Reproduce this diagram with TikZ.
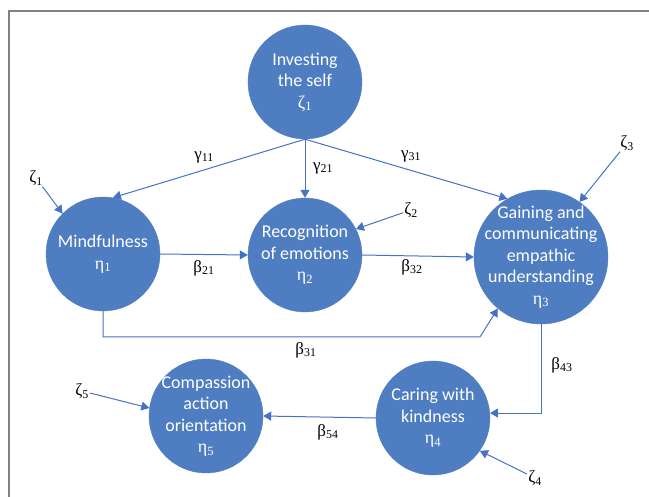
\documentclass[tikz,border=0pt]{standalone}
\usepackage{fontspec}
\setmainfont{Liberation Serif}
\newfontfamily\bubblefont{Carlito}
\usepackage{xcolor}
\usetikzlibrary{arrows.meta}
\definecolor{pathblue}{HTML}{4472C4}
\definecolor{bubbleblue}{HTML}{4E7DC1}
\definecolor{framegrey}{HTML}{808080}
\newcommand{\gsub}[2]{#1\textsubscript{#2}}

\begin{document}
\begin{tikzpicture}[x=1pt, y=-1pt,
  bubble/.style={circle, fill=bubbleblue, draw=bubbleblue, minimum size=114pt, inner sep=-10pt,
    text=white, align=center, font=\fontsize{18}{21.5}\selectfont\bubblefont},
  coef/.style={font=\fontsize{17}{20}\selectfont, inner sep=1pt},
  path/.style={draw=pathblue, line width=1pt, -{Triangle[length=8pt,width=9pt]}}]
\useasboundingbox (0,0) rectangle (649,497);
\draw[framegrey, line width=1.5pt] (9,497) -- (9,11) -- (649,11);

% Latent variables
\node[bubble] (invest) at (305,82) {Investing\\the self\\{\rmfamily\gsub{ζ}{1}}};
\node[bubble] (mind) at (103,254) {Mindfulness\\{\rmfamily\gsub{η}{1}}};
\node[bubble] (recog) at (305,255) {Recognition\\of emotions\\{\rmfamily\gsub{η}{2}}};
\node[bubble, minimum size=134pt] (gain) at (541,257) {Gaining and\\communicating\\empathic\\understanding\\{\rmfamily\gsub{η}{3}}};
\node[bubble] (care) at (433,418) {Caring with\\kindness\\{\rmfamily\gsub{η}{4}}};
\node[bubble] (comp) at (206,416) {Compassion\\action\\orientation\\{\rmfamily\gsub{η}{5}}};

% Disturbances
\node[coef] (z1) at (36,178) {\gsub{ζ}{1}};
\node[coef] (z2) at (411,210) {\gsub{ζ}{2}};
\node[coef] (z3) at (627,143) {\gsub{ζ}{3}};
\node[coef] (z4) at (535,478) {\gsub{ζ}{4}};
\node[coef] (z5) at (82,391) {\gsub{ζ}{5}};

% Path coefficients
\node[coef] (g11) at (204,157) {\gsub{γ}{11}};
\node[coef] (g21) at (323,168) {\gsub{γ}{21}};
\node[coef] (g31) at (411,156) {\gsub{γ}{31}};
\node[coef] (b21) at (204,268) {\gsub{β}{21}};
\node[coef] (b32) at (412,267) {\gsub{β}{32}};
\node[coef] (b31) at (306,350) {\gsub{β}{31}};
\node[coef] (b43) at (562,365) {\gsub{β}{43}};
\node[coef] (b54) at (328,432) {\gsub{β}{54}};

\draw[path] (invest.south) -- (mind.80);
\draw[path] (invest.south) -- (recog.north);
\draw[path] (invest.south) -- (gain.120);
\draw[path] (mind.east) -- (recog.west);
\draw[path] (recog.east) -- (gain.west);
\draw[path] (mind.south) |- (480,337) -- (gain.230);
\draw[path] (gain.south) |- (care.5);
\draw[path] (care.west) -- (comp.east);

\draw[path] (z1) -- (mind.135);
\draw[path] (z2) -- (recog.27);
\draw[path] (z3) -- (gain.55);
\draw[path] (z4) -- (care.-35);
\draw[path] (z5) -- (comp.172);
\end{tikzpicture}
\end{document}
